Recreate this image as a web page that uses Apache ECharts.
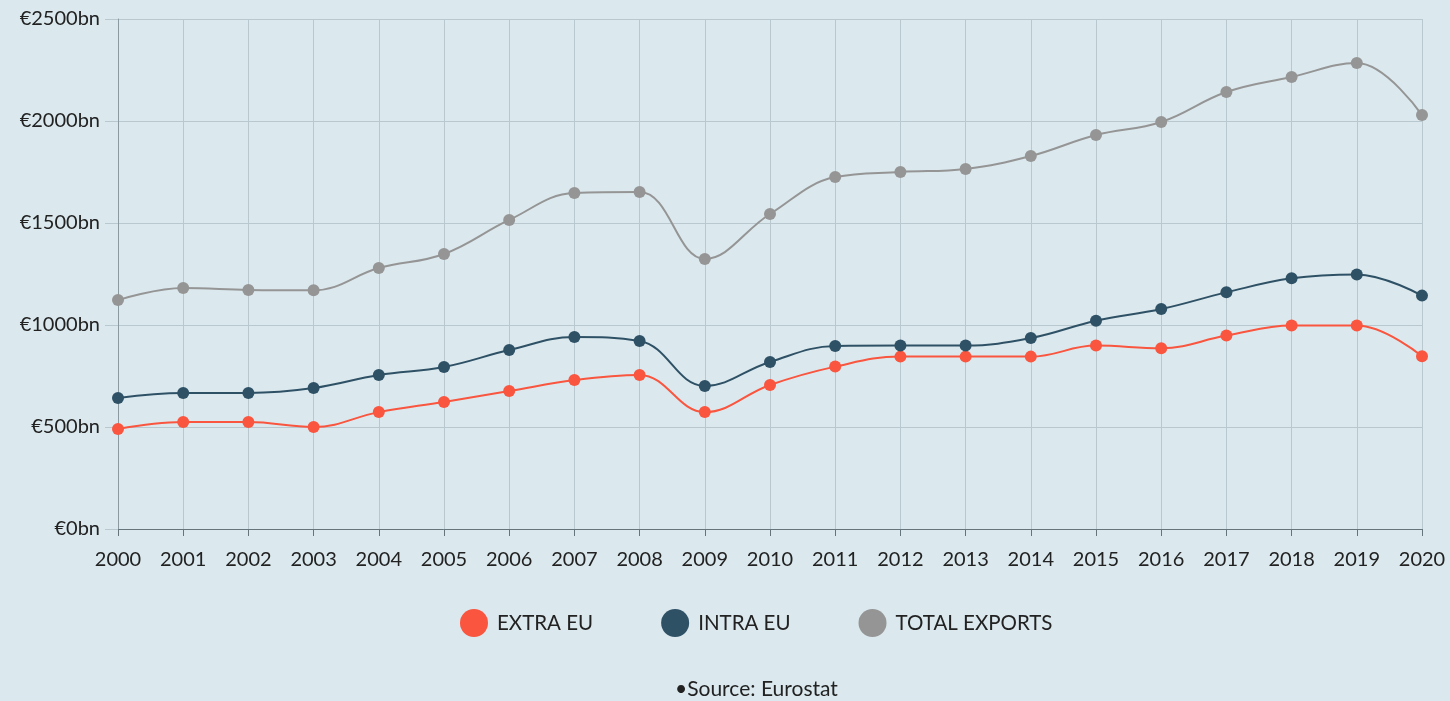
<!DOCTYPE html>
<html>
<head>
<meta charset="utf-8">
<script src="https://cdn.jsdelivr.net/npm/echarts@6/dist/echarts.min.js"></script>
<style>
    html, body { margin: 0; padding: 0; background: #dbe9ee; }
    #chart { width: 1450px; height: 701px; }
</style>
</head>
<body>
<div id="chart"></div>
<script>
// years on the x axis
var years = ['2000', '2001', '2002', '2003', '2004', '2005', '2006', '2007', '2008', '2009', '2010',
    '2011', '2012', '2013', '2014', '2015', '2016', '2017', '2018', '2019', '2020'];
// exports, € billions
var extraEu = [490, 524, 524, 500, 573, 623, 676, 730, 755, 573, 706, 796, 845, 845, 845, 899, 886, 948, 997, 997, 847];
var intraEu = [642, 667, 667, 691, 755, 794, 877, 941, 922, 701, 819, 897, 899, 899, 936, 1021, 1078, 1160, 1229, 1248, 1144];
var totalExports = [1122, 1181, 1172, 1170, 1279, 1348, 1515, 1647, 1652, 1324, 1544, 1725, 1750, 1765, 1828, 1931, 1995, 2142, 2216, 2284, 2029];
var seriesNames = ['EXTRA EU', 'INTRA EU', 'TOTAL EXPORTS'];
var colors = ['#f9553f', '#2f5166', '#959595'];

var myChart = echarts.init(document.getElementById('chart'));

function lineSeries(name, data, color) {
    return {
        name: name,
        type: 'line',
        smooth: 0.4,
        data: data,
        symbol: 'circle',
        symbolSize: 12,
        lineStyle: { width: 2, color: color },
        itemStyle: { color: color }
    };
}

var option = {
    backgroundColor: '#dbe9ee',
    animation: false,
    textStyle: { fontFamily: 'Lato' },
    color: colors,
    grid: { left: 118, right: 28, top: 19, bottom: 172 },
    legend: {
        top: 604,
        left: 455,
        icon: 'circle',
        itemWidth: 28,
        itemHeight: 28,
        itemGap: 68,
        textStyle: { fontSize: 20.5, color: '#222', fontFamily: 'Lato', padding: [0, 0, 0, 4] },
        data: seriesNames
    },
    title: {
        text: '•Source: Eurostat',
        left: 670,
        top: 674,
        textStyle: { fontSize: 21, fontWeight: 'normal', color: '#222', fontFamily: 'Lato' }
    },
    xAxis: {
        type: 'category',
        data: years,
        boundaryGap: false,
        axisLine: { lineStyle: { color: '#66757c', width: 1 } },
        axisTick: { show: true, length: 7, lineStyle: { color: '#66757c' } },
        axisLabel: { fontSize: 20, color: '#222', margin: 21, fontFamily: 'Lato' },
        splitLine: { show: true, lineStyle: { color: '#b9c8ce', width: 1 } }
    },
    yAxis: {
        type: 'value',
        min: 0,
        max: 2500,
        interval: 500,
        axisLine: { show: true, lineStyle: { color: '#8a9aa0', width: 1 } },
        axisTick: { show: true, length: 13, lineStyle: { color: '#b9c8ce' } },
        axisLabel: {
            fontSize: 20, color: '#222', margin: 18, fontFamily: 'Lato',
            formatter: function (v) { return '€' + v + 'bn'; }
        },
        splitLine: { show: true, lineStyle: { color: '#b9c8ce', width: 1 } }
    },
    series: [
        lineSeries(seriesNames[0], extraEu, colors[0]),
        lineSeries(seriesNames[1], intraEu, colors[1]),
        lineSeries(seriesNames[2], totalExports, colors[2])
    ]
};

myChart.setOption(option);
</script>
</body>
</html>
